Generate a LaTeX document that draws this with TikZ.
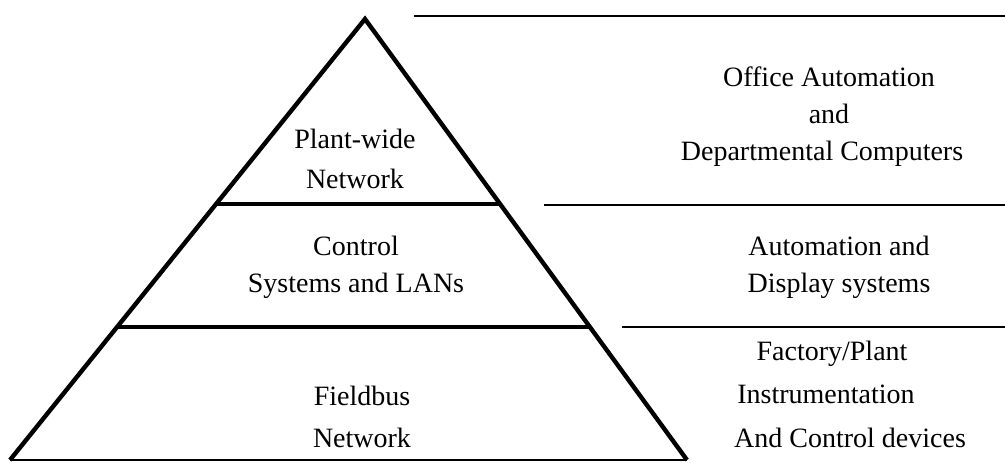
\documentclass[tikz,border=0pt]{standalone}
\usepackage{fontspec}
\setmainfont{Liberation Serif}
\usetikzlibrary{calc}
\tikzset{
  side/.style={line width=2.2pt, line join=miter},
  divider/.style={line width=2pt},
  baseline/.style={line width=0.9pt},
  rule/.style={line width=1.1pt},
  label/.style={anchor=base, inner sep=0pt, font=\fontsize{14}{18}\selectfont}
}
\begin{document}
\begin{tikzpicture}[x=0.5pt, y=-0.5pt]
  \useasboundingbox (0,0) rectangle (1005,462);

  % pyramid corners
  \coordinate (apex) at (365,19);
  \coordinate (bl) at (10,460);
  \coordinate (br) at (687,460);

  % sides and base
  \draw[side] (bl) -- (apex) -- (br);
  \draw[baseline] (bl) -- (br);

  % level dividers inside the pyramid
  \coordinate (d1l) at ($(apex)!0.4195!(bl)$);
  \coordinate (d1r) at ($(apex)!0.4195!(br)$);
  \coordinate (d2l) at ($(apex)!0.698!(bl)$);
  \coordinate (d2r) at ($(apex)!0.698!(br)$);
  \draw[divider] (d1l) -- (d1r);
  \draw[divider] (d2l) -- (d2r);

  % rules on the right
  \coordinate (r0a) at (414,16);  \coordinate (r0b) at (1005,16);
  \coordinate (r1a) at (544,205); \coordinate (r1b) at (1005,205);
  \coordinate (r2a) at (622,327); \coordinate (r2b) at (1005,327);
  \draw[rule] (r0a) -- (r0b);
  \draw[rule] (r1a) -- (r1b);
  \draw[rule] (r2a) -- (r2b);

  % pyramid labels
  \node[label] (pw1) at (355,148) {Plant-wide};
  \node[label] (pw2) at (355,188) {Network};
  \node[label] (cs1) at (356,255) {Control};
  \node[label] (cs2) at (356,292) {Systems and LANs};
  \node[label] (fb1) at (362,405) {Fieldbus};
  \node[label] (fb2) at (362,447) {Network};

  % level descriptions
  \node[label] (oa1) at (829,86)  {Office Automation};
  \node[label] (oa2) at (829,123) {and};
  \node[label] (oa3) at (822,160) {Departmental Computers};
  \node[label] (ad1) at (839,255) {Automation and};
  \node[label] (ad2) at (839,292) {Display systems};
  \node[label] (fp1) at (832,360) {Factory/Plant};
  \node[label] (fp2) at (826,403) {Instrumentation};
  \node[label] (fp3) at (850,447) {And Control devices};
\end{tikzpicture}
\end{document}
